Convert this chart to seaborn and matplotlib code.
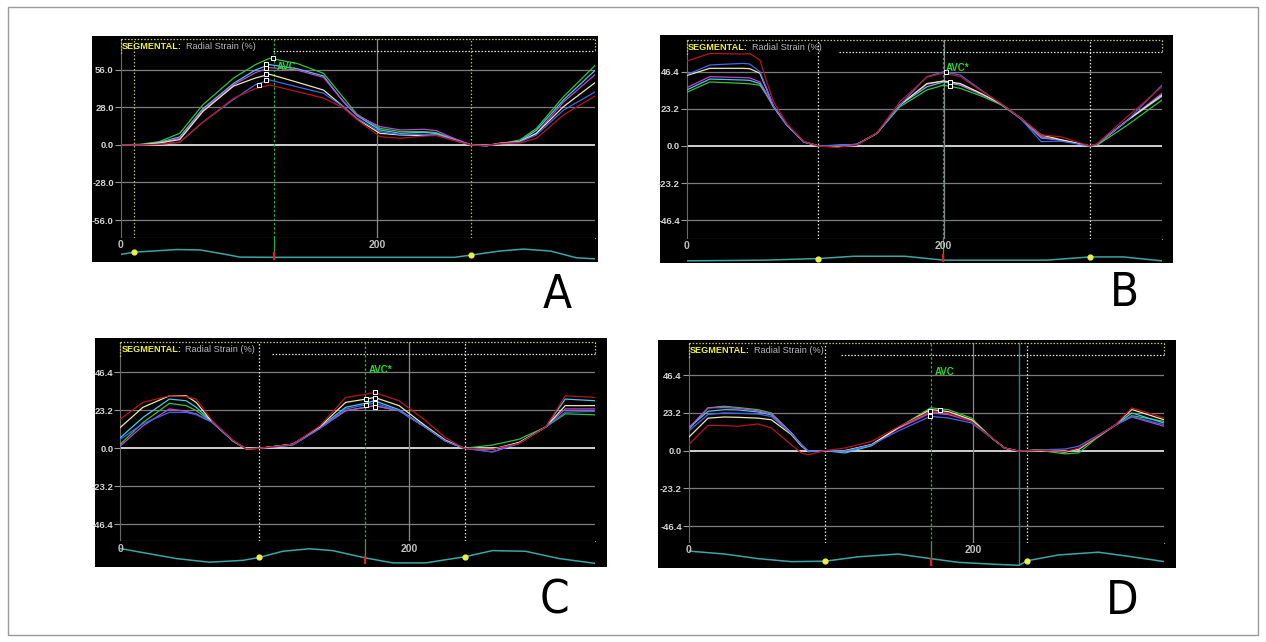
import matplotlib
matplotlib.use('Agg')
import matplotlib.pyplot as plt
import pandas as pd
import seaborn as sns
from matplotlib.patches import Rectangle

W, H = 1266, 642

segments = ['green', 'cyan', 'magenta', 'yellow', 'blue', 'red']
seg_colors = {'green': '#33c43c', 'cyan': '#48c8e8', 'magenta': '#c044d8',
              'yellow': '#efe8a8', 'blue': '#4066ea', 'red': '#b8141e'}

# ---- panel A: radial strain (%) per segment
a_x = [0, 15, 30, 46, 64, 88, 105, 116, 137, 158, 173, 184, 202, 218, 236, 246,
       257, 273, 285, 296, 311, 324, 345, 370]
a_green = [0, 0.5, 2.5, 8.7, 30, 50, 60, 64.7, 61, 53.5, 36, 23, 12.4, 10, 10, 9.2,
           5.5, 0, -0.5, 1, 3.7, 12.4, 36, 59.7]
a_cyan = [0, 0, 2, 6, 27, 46, 56, 60, 57, 51.5, 33, 22, 11.2, 8.7, 9.5, 8.5,
          5, 0, -0.5, 1.2, 2.8, 11, 33.6, 56]
a_magenta = [0, 0, 1.5, 5, 26, 45, 54, 57.7, 56, 50.5, 33, 22, 13.7, 11.2, 11.7, 10.7,
             6, 0, -0.3, 1.5, 2.5, 8.7, 32, 52.8]
a_yellow = [0, 0, 1.5, 4, 25, 44, 50, 52.8, 47, 41, 29, 19.5, 8.7, 7.5, 7, 7.5,
            4.5, 0, -0.5, 1.2, 2.5, 8.7, 28.6, 46.8]
a_blue = [0, 0, 0.5, 2, 17, 34, 45, 48.5, 43.5, 38.6, 29, 20, 10, 7.8, 8, 7.5,
          4.5, 0, -0.8, 1, 2.2, 7.5, 26, 39.8]
a_red = [0, 0, 0.5, 2, 17, 35, 42, 44.8, 40, 35, 28, 19, 6.2, 5, 6.7, 7,
         4, 0, -0.3, 1, 1.5, 5, 22.4, 36.8]
a_peak_x = [118.4, 113, 113, 113, 113, 108]
a_peak_y = [64.7, 60.2, 57.7, 52.8, 48.5, 44.8]
a_events = [10.6, 273]
a_avc = 119.2
a_ecg_x = [0, 10.6, 44, 62, 80, 93, 120, 200, 260, 273, 295, 314, 335, 355, 370]
a_ecg_y = [0.25, 0.35, 0.47, 0.45, 0.27, 0.13, 0.12, 0.12, 0.12, 0.22, 0.4, 0.49, 0.4, 0.1, 0.05]

# ---- panel B
b_x = [0, 18, 44, 49, 57, 62, 67.5, 78, 91, 102.6, 117, 132.5, 148, 166, 187, 200, 213,
       230, 244, 260, 276, 291, 314, 319.5, 343, 370]
b_green = [33.5, 40, 39.1, 38.8, 38, 32, 24.5, 13, 2.7, 0, 0.3, 1, 7.9, 24.5, 35, 38, 36,
           31, 26, 17.5, 5.8, 3.7, 0, 0.5, 13, 28.7]
b_cyan = [35, 41.8, 41.2, 41, 39, 32.5, 24.5, 13, 2.7, 0, 0.5, 1, 7.9, 25.6, 37, 40, 38,
          32, 26.6, 17, 5, 3.7, 0, 1, 16, 31]
b_magenta = [36.4, 43.3, 42.7, 42.5, 40, 33, 24.5, 13, 2.5, 0, 0.3, 1, 7.9, 25.6, 38.5, 40.6, 38.5,
             32, 26.6, 17.5, 5.5, 3.7, 0, 1, 16, 32.9]
b_yellow = [44, 48.5, 48.5, 48.3, 45.4, 36, 25, 13.1, 2.7, 0, -0.5, 0.8, 7.9, 25.6, 39, 40.6, 39,
            32.5, 26.6, 17.3, 6.9, 4, 0, 1, 16, 31.8]
b_blue = [44.5, 50.6, 51.6, 51.2, 46.4, 36.5, 25, 13, 2.5, 0, 0.3, 1, 7.9, 25.6, 43.3, 46.4, 44.3,
          34.5, 26.6, 17, 2.7, 3, 0, 1, 16, 38]
b_red = [53, 57.8, 57.4, 57.8, 53.7, 41, 27.7, 14, 3, 0, -0.8, 0.5, 8.2, 27.7, 43, 45.5, 43.3,
         34, 27, 17.5, 6.9, 5.8, 0, 1.5, 18.3, 37]
b_peak_x = [202, 205, 205]
b_peak_y = [46, 40.2, 37.7]
b_events = [102.6, 314]
b_avc = 199.5
b_ecg_x = [0, 60, 102.6, 130, 170, 200, 280, 314, 340, 370]
b_ecg_y = [0.05, 0.08, 0.15, 0.25, 0.25, 0.08, 0.08, 0.22, 0.22, 0.05]

# ---- panel C
c_x = [0, 15.7, 34, 45.6, 52.5, 64, 78, 87, 96.3, 119.4, 138, 156, 170, 176, 193, 211.5,
       225, 238, 257.6, 276, 294.5, 308, 328.6]
c_green = [2.5, 15.7, 27.4, 26, 23, 15.7, 4.5, -0.3, 0, 2.5, 12.7, 22.9, 25, 26, 22.9, 12.7,
           4.5, 0, 2, 5.5, 13, 21, 20.4]
c_cyan = [6.5, 18.8, 30, 29, 25, 15.7, 4.5, -0.3, 0, 2.5, 12.7, 25, 27.5, 29, 23.5, 12.7,
          4.5, 0, -0.6, 3.5, 13, 30, 29]
c_magenta = [1.4, 13.7, 24, 22.5, 21, 15.7, 4.5, -0.3, 0, 2, 12, 22.9, 25, 26, 22.9, 12.7,
             4.5, 0, -2.2, 3, 13, 24, 24]
c_yellow = [12.7, 25, 32, 32, 28, 15.7, 4.5, -0.3, 0, 2.5, 13, 28, 30, 31, 26, 13.5,
            5, 0, -0.6, 3.5, 13, 26, 26]
c_blue = [5.5, 15, 21.9, 21.9, 20.5, 15.7, 4.5, -0.3, 0, 2, 12, 24, 26.5, 27.6, 23, 12.7,
          4.5, 0, -2.2, 3, 13, 22, 22.5]
c_red = [17.8, 28, 32, 31.5, 30, 16.5, 5, -0.3, 0, 2.5, 13.5, 31, 33, 34, 29, 16.8,
         6.5, 0, -0.6, 3, 13, 32, 31]
c_peak_x = [176, 176, 176, 176, 170, 170]
c_peak_y = [34.1, 30.7, 27.6, 24.9, 30, 26.4]
c_events = [96.3, 238.5]
c_avc = 169.6
c_ecg_x = [0, 38.7, 61.8, 84.8, 96.3, 112.4, 130.9, 147, 169.6, 188.5, 211.5, 238.5,
           257.6, 280.6, 303.7, 328.6]
c_ecg_y = [0.68, 0.24, 0.08, 0.16, 0.29, 0.56, 0.67, 0.59, 0.27, 0.05, 0.05, 0.32,
           0.59, 0.56, 0.24, 0.03]

# ---- panel D
d_x = [0, 13.6, 25, 34.7, 48.8, 58, 72, 79, 84, 95.7, 109.7, 128.5, 147, 170, 182.4, 198.8,
       213, 222, 231.6, 248, 264.5, 274, 285.6, 299.6, 311.4, 334]
d_green = [13, 26.3, 27.3, 26.5, 25.2, 23.2, 11, 4, -0.4, 0, -0.4, 3.7, 14, 26.3, 25.2, 20,
           7.8, 1.6, -0.3, 0, -2, -1.4, 7, 15.6, 21.5, 18]
d_cyan = [14, 24.2, 25.2, 25, 23.8, 22, 11, 3.7, -0.4, 0, -1.4, 3, 14, 24, 23, 18.5,
          7.8, 1.6, -0.3, 0.5, -0.8, 0.5, 7.8, 15.6, 23.2, 17]
d_magenta = [14, 26.3, 26.5, 26, 24.5, 22.5, 10.9, 3.7, -0.4, 0, 0, 3.7, 13.5, 23.2, 22.2, 18,
             7.8, 1.6, -0.3, 0.3, -0.8, 1, 7.8, 15.6, 20.7, 15]
d_yellow = [8.2, 20, 20.7, 20.5, 20, 19, 10, 3, -0.6, 0, 0, 3.7, 14, 25.3, 24, 19,
            7.8, 1.6, -0.3, 0.5, -0.8, 1, 7.8, 15.6, 25.3, 19]
d_blue = [12, 22.2, 23.2, 23, 22.5, 21, 10.5, 3.5, -0.4, 0, -0.3, 3.5, 12, 21.1, 20.1, 17,
          7.8, 1.6, -0.3, 0.5, 1, 2.7, 8.5, 15.6, 21, 16]
d_red = [3.7, 15.6, 15.4, 15, 16.4, 14, 3.7, -1.4, -2.5, 0, 1.6, 5.7, 14.5, 24.2, 23.2, 18,
         8, 1.6, -0.3, 0.3, -0.5, 1.5, 8, 15.6, 26.3, 20.1]
d_peak_x = [169.5, 169.5, 176.5]
d_peak_y = [24.6, 21.1, 25.3]
d_events = [96.1, 238]
d_avc = 170.2
d_extra = 232.1
d_ecg_x = [0, 25.3, 48.8, 72.2, 96.1, 119.1, 147.2, 170.2, 189.4, 212.9, 232.1, 238,
           259.8, 287.9, 311.4, 334.4]
d_ecg_y = [0.65, 0.52, 0.32, 0.19, 0.21, 0.4, 0.52, 0.32, 0.16, 0.08, 0.03, 0.23,
           0.48, 0.6, 0.4, 0.19]

ticks_a = [56.0, 28.0, 0.0, -28.0, -56.0]
ticks_bcd = [46.4, 23.2, 0.0, -23.2, -46.4]

panels = [
    dict(name='A', x=a_x, ys=[a_green, a_cyan, a_magenta, a_yellow, a_blue, a_red],
         px=a_peak_x, py=a_peak_y, events=a_events, avc=a_avc, avc_label='AVC',
         ecg_x=a_ecg_x, ecg_y=a_ecg_y, ticks=ticks_a, ylim=(-69.2, 79.1), xmax=369.6,
         box=(92, 36, 598, 262), plot=(120.7, 39, 595, 237.7), strip_b=260,
         ev_color='#b8b860', letter=(557, 295), extra=None, avc_y=58),
    dict(name='B', x=b_x, ys=[b_green, b_cyan, b_magenta, b_yellow, b_blue, b_red],
         px=b_peak_x, py=b_peak_y, events=b_events, avc=b_avc, avc_label='AVC*',
         ecg_x=b_ecg_x, ecg_y=b_ecg_y, ticks=ticks_bcd, ylim=(-58.1, 66.2), xmax=370,
         box=(660, 35, 1173, 263), plot=(686.7, 40, 1162, 239), strip_b=262,
         ev_color='#e8e8d8', letter=(1124, 293), extra=None, avc_y=49),
    dict(name='C', x=c_x, ys=[c_green, c_cyan, c_magenta, c_yellow, c_blue, c_red],
         px=c_peak_x, py=c_peak_y, events=c_events, avc=c_avc, avc_label='AVC*',
         ecg_x=c_ecg_x, ecg_y=c_ecg_y, ticks=ticks_bcd, ylim=(-56.7, 64.8), xmax=328.6,
         box=(95, 338, 607, 567), plot=(120.3, 342, 595, 541.3), strip_b=564,
         ev_color='#e8e8c8', letter=(554, 601), extra=None, avc_y=48),
    dict(name='D', x=d_x, ys=[d_green, d_cyan, d_magenta, d_yellow, d_blue, d_red],
         px=d_peak_x, py=d_peak_y, events=d_events, avc=d_avc, avc_label='AVC',
         ecg_x=d_ecg_x, ecg_y=d_ecg_y, ticks=ticks_bcd, ylim=(-56.8, 66.2), xmax=334,
         box=(658, 340, 1176, 568), plot=(688.7, 343, 1164, 543), strip_b=566,
         ev_color='#e8e8d8', letter=(1122, 602), extra=d_extra, avc_y=48.5),
]


def frac(l, t, r, b):
    return [l / W, 1 - b / H, (r - l) / W, (b - t) / H]


fig = plt.figure(figsize=(W / 100, H / 100), dpi=100, facecolor='white')
fig.patches.append(Rectangle((8 / W, 1 - 635 / H), 1250 / W, 628 / H, transform=fig.transFigure,
                             fill=False, edgecolor='#9a9a9a', linewidth=1))

lab_font = ['Liberation Sans', 'DejaVu Sans']

for p in panels:
    bg = fig.add_axes(frac(*p['box']))
    bg.set_facecolor('black')
    bg.set_xticks([])
    bg.set_yticks([])
    for s in bg.spines.values():
        s.set_visible(False)

    l, t, r, b = p['plot']
    ax = fig.add_axes(frac(l, t, r, b))
    ax.set_facecolor('black')
    st = fig.add_axes(frac(l, b, r, p['strip_b']))
    st.set_facecolor('black')

    # gridlines
    for tk in p['ticks']:
        ax.axhline(tk, color='#e0e0e0' if tk == 0 else '#7c7c7c',
                   lw=1.3 if tk == 0 else 0.9, zorder=1)
    ax.axvline(200, color='#8a8a8a', lw=0.9, zorder=1)
    for ev in p['events']:
        ax.axvline(ev, color=p['ev_color'], lw=0.9, ls=(0, (1.2, 1.6)), zorder=1)
    if p['extra'] is not None:
        ax.axvline(p['extra'], color='#2f7f86', lw=1, zorder=1)
        st.axvline(p['extra'], color='#2f7f86', lw=1, zorder=1)
    ax.axvline(p['avc'], color='#2aa838', lw=0.9, ls=(0, (2, 1.5)), zorder=2)

    # segment curves
    df = pd.DataFrame({
        'time': p['x'] * len(segments),
        'strain': [v for ys in p['ys'] for v in ys],
        'segment': [s for s in segments for _ in p['x']],
    })
    sns.lineplot(data=df, x='time', y='strain', hue='segment', palette=seg_colors,
                 hue_order=segments, legend=False, linewidth=0.9, sort=False,
                 estimator=None, ax=ax, zorder=3)
    ax.scatter(p['px'], p['py'], marker='s', s=9, facecolor='black',
               edgecolor='white', linewidth=0.7, zorder=5)

    ax.text(p['avc'] + 2.5, p['avc_y'], p['avc_label'], color='#2ed03a',
            fontsize=7, fontweight='bold', family=lab_font, va='center', ha='left', zorder=6)

    ax.set_xlim(0, p['xmax'])
    ax.set_ylim(*p['ylim'])
    ax.set_yticks(p['ticks'])
    ax.set_yticklabels(['%.1f' % v for v in p['ticks']], color='#d4d4d4', fontsize=6.8,
                       fontweight='bold', family=lab_font)
    ax.tick_params(axis='y', length=4, width=0.8, color='#9a9a9a', pad=1)
    ax.set_xticks([])
    ax.set_xlabel('')
    ax.set_ylabel('')
    for s in ax.spines.values():
        s.set_visible(False)
    ax.spines['left'].set_visible(True)
    ax.spines['left'].set_color('#6a6a6a')
    ax.spines['bottom'].set_visible(True)
    ax.spines['bottom'].set_color('#9a9a9a')

    # dotted header box
    hp = (b - t)
    yline = 1 - 11.5 / hp
    ax.plot([0, 1], [1, 1], transform=ax.transAxes, color='#c8c870', lw=0.9,
            ls=(0, (1.2, 1.4)), clip_on=False, zorder=4)
    ax.plot([0, 0], [1, yline - 0.02], transform=ax.transAxes, color='#c8c870', lw=0.9,
            ls=(0, (1.2, 1.4)), clip_on=False, zorder=4)
    ax.plot([1, 1], [1, yline], transform=ax.transAxes, color='#c8c870', lw=0.9,
            ls=(0, (1.2, 1.4)), clip_on=False, zorder=4)
    ax.plot([152 / (r - l), 1], [yline, yline], transform=ax.transAxes, color='#e6e6e6',
            lw=0.9, ls=(0, (1.2, 1.4)), clip_on=False, zorder=4)
    ax.text(1 / (r - l), 1 - 7.5 / hp, 'SEGMENTAL:', transform=ax.transAxes, color='#f0f03c',
            fontsize=6.6, fontweight='bold', family=lab_font, va='center', ha='left', zorder=6)
    ax.text(65 / (r - l), 1 - 7.5 / hp, 'Radial Strain (%)', transform=ax.transAxes,
            color='#b8b8b8', fontsize=6.6, family=lab_font, va='center', ha='left', zorder=6)

    # ECG strip
    st.plot(p['ecg_x'], p['ecg_y'], color='#3aa6a6', lw=1.1, zorder=2)
    st.axvline(p['avc'], color='#2aa838', lw=0.9, zorder=1)
    st.plot([p['avc'], p['avc']], [0, 0.3], color='#e0201a', lw=1.6, zorder=3)
    ev_y = [p['ecg_y'][p['ecg_x'].index(ev)] for ev in p['events']]
    st.scatter(p['events'], ev_y, s=12, color='#f0f040', zorder=4)
    st.text(0, 0.68, '0', color='#c0c0c0', fontsize=7.5, fontweight='bold', family=lab_font,
            ha='center', va='center')
    st.text(200, 0.68, '200', color='#c0c0c0', fontsize=7.5, fontweight='bold', family=lab_font,
            ha='center', va='center')
    st.set_xlim(0, p['xmax'])
    st.set_ylim(0, 1)
    st.set_xticks([])
    st.set_yticks([])
    for s in st.spines.values():
        s.set_visible(False)

    lx, ly = p['letter']
    fig.text(lx / W, 1 - ly / H, p['name'], fontsize=34, fontstretch='condensed',
             family=['Liberation Sans Narrow', 'DejaVu Sans'],
             color='black', ha='center', va='center')

fig.savefig('out.png', dpi=100, facecolor='white')
